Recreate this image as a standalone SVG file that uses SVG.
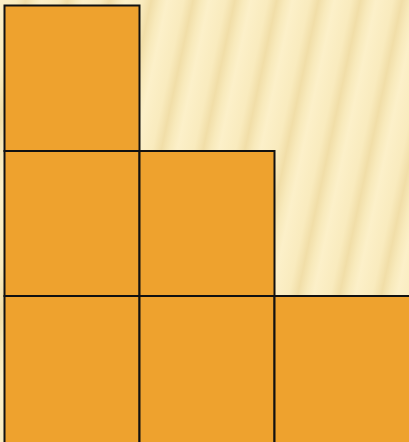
<svg xmlns="http://www.w3.org/2000/svg" width="409" height="442" viewBox="0 0 409 442">
<defs>
<linearGradient id="stripes" gradientUnits="userSpaceOnUse" x1="0" y1="0" x2="40" y2="8.5" spreadMethod="repeat">
<stop offset="0" stop-color="#FCF0C9"/>
<stop offset="0.4" stop-color="#F9EBBE"/>
<stop offset="0.62" stop-color="#F1DEA8"/>
<stop offset="0.82" stop-color="#F8EABC"/>
<stop offset="1" stop-color="#FCF0C9"/>
</linearGradient>
</defs>
<style>
.sq{fill:#EEA22E;stroke:#111;stroke-width:2}
</style>
<rect x="0" y="0" width="409" height="442" fill="url(#stripes)"/>
<g id="r1c1"><rect class="sq" x="4.5" y="5.5" width="135" height="145.5"/></g>
<g id="r2c1"><rect class="sq" x="4.5" y="151" width="135" height="145"/></g>
<g id="r2c2"><rect class="sq" x="139.5" y="151" width="135" height="145"/></g>
<g id="r3c1"><rect class="sq" x="4.5" y="296" width="135" height="150"/></g>
<g id="r3c2"><rect class="sq" x="139.5" y="296" width="135" height="150"/></g>
<g id="r3c3"><rect class="sq" x="274.5" y="296" width="140" height="150"/></g>
<g id="connectors"></g>
</svg>
